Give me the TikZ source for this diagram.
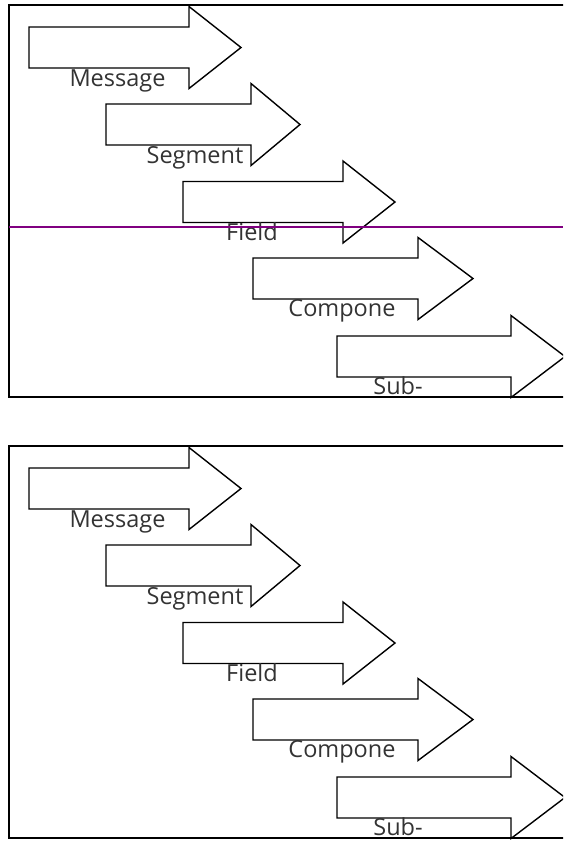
\documentclass[tikz,border=0pt]{standalone}
\usepackage{fontspec}
\setmainfont{Open Sans}
\definecolor{linepurple}{RGB}{128,0,128}
\newcommand\HArrow[4]{% left x, head x, tip x, centre y
  \draw[arrowshape] (#1,#4-20.5) -- (#2,#4-20.5) -- (#2,#4-41) -- (#3,#4)
    -- (#2,#4+41) -- (#2,#4+20.5) -- (#1,#4+20.5) -- cycle;}
\tikzset{
  arrowshape/.style={draw=black, line width=1.4pt, line join=miter},
  frame/.style={draw=black, line width=1.5pt},
  lbl/.style={font=\fontsize{23.5}{26}\selectfont, text=black!80, inner sep=0pt, anchor=base},
  divider/.style={draw=linepurple, line width=1.5pt}
}
\begin{document}
\begin{tikzpicture}[x=1pt,y=-1pt]
\useasboundingbox (0,0) rectangle (563,865);
\clip (0,0) rectangle (563,865);
\foreach \dy/\p in {0/a,441/b}{
\begin{scope}[shift={(0,\dy)}]
  \draw[frame] (9,5) rectangle (580,397);
  \HArrow{29}{189}{241}{47.5}
  \HArrow{106}{251}{300}{124.5}
  \HArrow{183}{343}{395}{202}
  \HArrow{253}{418}{473}{278.5}
  \HArrow{337}{511}{565}{356.5}
  \node[lbl] (msg\p) at (117.5,86.5) {Message};
  \node[lbl] (seg\p) at (195,163) {Segment};
  \node[lbl] (fld\p) at (252,240) {Field};
  \node[lbl] (cmp\p) at (342,316.5) {Compone};
  \node[lbl] (sub\p) at (398,394) {Sub-};
\end{scope}}
\coordinate (divL) at (9,227);
\coordinate (divR) at (563,227);
\draw[divider] (divL) -- (divR);
\end{tikzpicture}
\end{document}
